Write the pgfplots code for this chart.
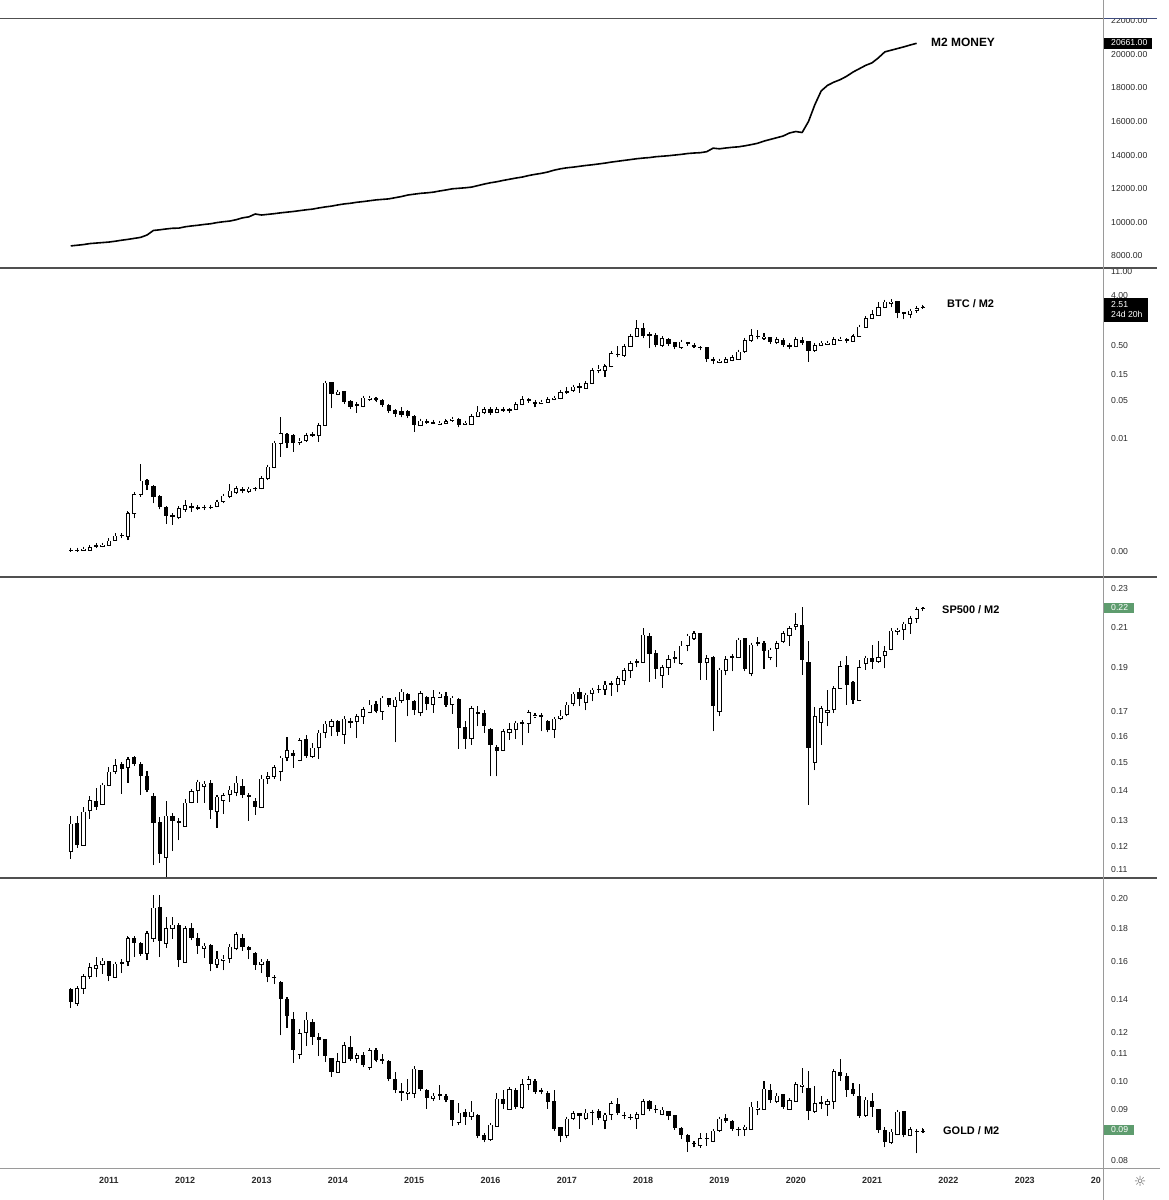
\documentclass[border=0pt]{standalone}
\usepackage{pgfplots}
\pgfplotsset{compat=1.18}
\usepackage{pgfplotstable}
\usepackage{fontspec}
\setmainfont{Liberation Sans}
\newfontfamily\symfont{DejaVu Sans}
\definecolor{sepgray}{HTML}{505050}
\definecolor{axgray}{HTML}{9A9A9A}
\definecolor{topblue}{HTML}{3E4B7C}
\definecolor{badgegreen}{HTML}{5E9C6E}
\definecolor{ticktext}{HTML}{2A2A2A}

% ---------------- M2 money (billions USD), monthly, m=0 is Jul 2010
\pgfplotstableread{
m v
0 8601
1 8640
2 8680
3 8740
4 8770
5 8800
6 8830
7 8880
8 8940
9 8990
10 9050
11 9110
12 9250
13 9520
14 9560
15 9610
16 9650
17 9660
18 9740
19 9790
20 9830
21 9880
22 9920
23 9990
24 10040
25 10080
26 10160
27 10270
28 10330
29 10500
30 10440
31 10480
32 10520
33 10570
34 10610
35 10650
36 10700
37 10750
38 10790
39 10860
40 10920
41 10970
42 11040
43 11100
44 11140
45 11200
46 11240
47 11290
48 11340
49 11370
50 11400
51 11470
52 11540
53 11630
54 11680
55 11730
56 11760
57 11800
58 11870
59 11930
60 12000
61 12030
62 12060
63 12100
64 12190
65 12280
66 12360
67 12420
68 12500
69 12570
70 12640
71 12700
72 12790
73 12860
74 12920
75 13000
76 13110
77 13190
78 13250
79 13290
80 13340
81 13390
82 13430
83 13480
84 13530
85 13590
86 13640
87 13690
88 13740
89 13790
90 13830
91 13860
92 13910
93 13940
94 13970
95 14010
96 14050
97 14100
98 14130
99 14150
100 14210
101 14420
102 14380
103 14430
104 14470
105 14500
106 14560
107 14630
108 14710
109 14840
110 14940
111 15040
112 15140
113 15320
114 15410
115 15350
116 16010
117 17010
118 17830
119 18160
120 18350
121 18500
122 18700
123 18950
124 19150
125 19350
126 19500
127 19800
128 20150
129 20250
130 20350
131 20450
132 20560
133 20661
}\mtwo

% ---------------- BTC / M2 monthly candles
\pgfplotstableread{
m o h l c
0 9.34e-5 9.74e-5 9.21e-5 9.60e-5
1 9.34e-5 9.74e-5 9.21e-5 9.60e-5
2 9.47e-5 1.058e-4 9.21e-5 1.001e-4
3 9.47e-5 1.119e-4 9.21e-5 1.058e-4
4 1.104e-4 1.287e-4 1.016e-4 1.151e-4
5 1.089e-4 1.252e-4 1.058e-4 1.184e-4
6 1.167e-4 1.543e-4 1.119e-4 1.400e-4
7 1.439e-4 1.956e-4 1.400e-4 1.726e-4
8 1.775e-4 1.903e-4 1.609e-4 1.678e-4
9 1.702e-4 4.713e-4 1.439e-4 4.395e-4
10 4.395e-4 1.044e-3 3.565e-4 9.87e-4
11 9.87e-4 3.467e-3 8.83e-4 1.726e-3
12 1.726e-3 1.825e-3 1.167e-3 1.439e-3
13 1.380e-3 1.439e-3 6.68e-4 8.83e-4
14 8.83e-4 9.47e-4 5.20e-4 5.65e-4
15 5.65e-4 5.975e-4 2.812e-4 3.93e-4
16 4.10e-4 4.52e-4 2.70e-4 3.72e-4
17 3.72e-4 5.975e-4 3.42e-4 5.42e-4
18 5.20e-4 7.68e-4 4.713e-4 6.23e-4
19 5.975e-4 6.68e-4 4.713e-4 5.50e-4
20 5.34e-4 5.975e-4 5.05e-4 5.65e-4
21 5.50e-4 5.975e-4 5.05e-4 5.80e-4
22 5.50e-4 6.14e-4 5.20e-4 5.81e-4
23 5.81e-4 7.68e-4 5.65e-4 7.17e-4
24 7.17e-4 9.87e-4 6.68e-4 9.21e-4
25 9.08e-4 1.501e-3 8.24e-4 1.136e-3
26 1.044e-3 1.342e-3 9.87e-4 1.252e-3
27 1.200e-3 1.305e-3 1.044e-3 1.104e-3
28 1.104e-3 1.305e-3 1.044e-3 1.235e-3
29 1.269e-3 1.342e-3 1.136e-3 1.200e-3
30 1.235e-3 2.040e-3 1.200e-3 1.903e-3
31 1.903e-3 3.325e-3 1.775e-3 3.100e-3
32 3.015e-3 9.21e-3 2.89e-3 8.47e-3
33 8.24e-3 0.02446 4.715e-3 0.01252
34 0.01218 0.01287 6.68e-3 8.47e-3
35 0.01136 0.01200 5.81e-3 8.47e-3
36 8.47e-3 0.01016 7.68e-3 9.21e-3
37 9.21e-3 0.01252 8.83e-3 0.01167
38 0.01151 0.01288 0.01089 0.01218
39 0.01167 0.01903 8.83e-3 0.01775
40 0.01775 0.1089 0.01702 0.1044
41 0.1044 0.1089 0.03565 0.06497
42 0.06497 0.0768 0.06233 0.07166
43 0.07166 0.07468 0.04275 0.04713
44 0.04713 0.05051 0.03718 0.03823
45 0.03988 0.04713 0.02973 0.04216
46 0.03823 0.05809 0.03718 0.05571
47 0.05269 0.05975 0.04915 0.05571
48 0.05418 0.05651 0.04779 0.05051
49 0.05051 0.05197 0.03932 0.04100
50 0.04100 0.04275 0.03101 0.03234
51 0.03325 0.03420 0.02515 0.02812
52 0.03145 0.03823 0.02446 0.02660
53 0.03145 0.03325 0.02446 0.02587
54 0.02587 0.02660 0.01342 0.01775
55 0.01775 0.02250 0.01702 0.02128
56 0.01984 0.02250 0.01851 0.02098
57 0.01903 0.02128 0.01851 0.02011
58 0.01851 0.02011 0.01800 0.01957
59 0.01903 0.02188 0.01825 0.02098
60 0.02188 0.02515 0.02040 0.02313
61 0.02250 0.02346 0.01609 0.01775
62 0.01851 0.02040 0.01775 0.01957
63 0.01851 0.02697 0.01800 0.02587
64 0.02515 0.03932 0.02446 0.03101
65 0.02973 0.03718 0.02812 0.03420
66 0.03420 0.03718 0.02697 0.02973
67 0.03058 0.03615 0.02891 0.03420
68 0.03234 0.03565 0.03101 0.03420
69 0.03420 0.03565 0.03058 0.03234
70 0.03420 0.04394 0.03325 0.04216
71 0.04216 0.05975 0.04044 0.05197
72 0.05197 0.05418 0.04521 0.04915
73 0.04394 0.04713 0.03718 0.04648
74 0.04457 0.04847 0.04275 0.04713
75 0.04648 0.05343 0.04521 0.05197
76 0.05269 0.05809 0.05051 0.05571
77 0.05418 0.07468 0.05197 0.07065
78 0.06966 0.08589 0.06497 0.07366
79 0.07468 0.09339 0.07065 0.08834
80 0.09082 0.1016 0.06871 0.08237
81 0.08237 0.1044 0.08010 0.1016
82 0.1016 0.1903 0.09874 0.1775
83 0.1726 0.2188 0.1543 0.1876
84 0.1775 0.2188 0.1342 0.2098
85 0.2040 0.3823 0.1984 0.3565
86 0.3467 0.4847 0.3015 0.3280
87 0.3280 0.5270 0.3101 0.4847
88 0.4847 0.7680 0.4715 0.7367
89 0.7367 1.439 0.7166 1.016
90 1.016 1.287 0.6683 0.7367
91 0.7900 0.8834 0.4396 0.7468
92 0.7574 0.8236 0.4584 0.5055
93 0.5055 0.7166 0.4715 0.6683
94 0.6407 0.6683 0.5055 0.5270
95 0.5571 0.5810 0.4335 0.4584
96 0.4584 0.6059 0.4335 0.5810
97 0.5571 0.5810 0.5055 0.5270
98 0.4715 0.5055 0.4457 0.4984
99 0.4584 0.4715 0.4216 0.4396
100 0.4584 0.4715 0.2515 0.2773
101 0.2773 0.3015 0.2282 0.2623
102 0.2481 0.2773 0.2346 0.2623
103 0.2481 0.2892 0.2346 0.2773
104 0.2697 0.3189 0.2551 0.3015
105 0.2773 0.3988 0.2697 0.3823
106 0.3823 0.6407 0.3666 0.6232
107 0.6232 0.9739 0.5810 0.7680
108 0.7367 0.9471 0.6407 0.6966
109 0.6776 0.8236 0.6232 0.7166
110 0.6871 0.7166 0.5419 0.5810
111 0.5571 0.6683 0.5270 0.6407
112 0.6232 0.6683 0.4715 0.5055
113 0.4715 0.5055 0.4216 0.4984
114 0.4847 0.6683 0.4584 0.6407
115 0.6232 0.7166 0.5419 0.5571
116 0.5810 0.6059 0.2515 0.3988
117 0.3988 0.5270 0.3823 0.5055
118 0.5055 0.5810 0.4847 0.5571
119 0.5270 0.5810 0.4984 0.5571
120 0.5270 0.6683 0.5125 0.6407
121 0.6232 0.6966 0.6059 0.6589
122 0.6407 0.6683 0.5730 0.5892
123 0.5892 0.7680 0.5730 0.7367
124 0.7367 1.120 0.7166 1.089
125 1.059 1.609 1.030 1.543
126 1.522 2.188 1.480 1.851
127 1.775 3.100 1.702 2.446
128 2.446 3.325 2.346 3.100
129 2.934 3.420 2.446 3.100
130 3.100 3.234 1.543 1.957
131 1.957 2.040 1.480 1.851
132 1.851 2.250 1.543 2.128
133 2.128 2.446 1.957 2.379
134 2.412 2.586 2.346 2.510
}\btc

% ---------------- SP500 / M2 monthly candles
\pgfplotstableread{
m o h l c
0 0.1201 0.1311 0.1179 0.1287
1 0.1287 0.1311 0.1211 0.1219
2 0.1219 0.1341 0.1218 0.1325
3 0.1330 0.1378 0.1302 0.1365
4 0.1361 0.1407 0.1333 0.1342
5 0.1350 0.1423 0.1348 0.1419
6 0.1416 0.1482 0.1413 0.1465
7 0.1466 0.1513 0.1457 0.1489
8 0.1494 0.1500 0.1387 0.1477
9 0.1480 0.1520 0.1425 0.1513
10 0.1520 0.1526 0.1488 0.1494
11 0.1494 0.1500 0.1383 0.1449
12 0.1449 0.1468 0.1392 0.1401
13 0.1376 0.1390 0.1160 0.1289
14 0.1289 0.1308 0.1167 0.1194
15 0.1183 0.1361 0.1126 0.1313
16 0.1311 0.1322 0.1201 0.1294
17 0.1292 0.1304 0.1234 0.1295
18 0.1279 0.1369 0.1277 0.1356
19 0.1356 0.1404 0.1354 0.1396
20 0.1398 0.1437 0.1356 0.1429
21 0.1413 0.1431 0.1356 0.1423
22 0.1423 0.1437 0.1302 0.1331
23 0.1328 0.1381 0.1273 0.1376
24 0.1364 0.1390 0.1318 0.1381
25 0.1384 0.1413 0.1358 0.1401
26 0.1390 0.1449 0.1378 0.1425
27 0.1413 0.1440 0.1373 0.1381
28 0.1381 0.1390 0.1297 0.1375
29 0.1360 0.1373 0.1316 0.1342
30 0.1341 0.1452 0.1341 0.1440
31 0.1441 0.1464 0.1423 0.1449
32 0.1449 0.1492 0.1441 0.1482
33 0.1465 0.1523 0.1431 0.1517
34 0.1517 0.1598 0.1504 0.1547
35 0.1536 0.1547 0.1480 0.1523
36 0.1508 0.1594 0.1504 0.1585
37 0.1588 0.1608 0.1517 0.1526
38 0.1521 0.1575 0.1517 0.1556
39 0.1556 0.1629 0.1513 0.1615
40 0.1618 0.1663 0.1594 0.1653
41 0.1642 0.1670 0.1601 0.1663
42 0.1663 0.1670 0.1604 0.1618
43 0.1608 0.1684 0.1572 0.1673
44 0.1659 0.1677 0.1636 0.1663
45 0.1663 0.1688 0.1594 0.1684
46 0.1684 0.1719 0.1653 0.1715
47 0.1700 0.1753 0.1697 0.1734
48 0.1734 0.1748 0.1702 0.1705
49 0.1705 0.1767 0.1670 0.1763
50 0.1759 0.1763 0.1726 0.1734
51 0.1726 0.1763 0.1578 0.1756
52 0.1753 0.1800 0.1741 0.1792
53 0.1778 0.1785 0.1684 0.1753
54 0.1748 0.1756 0.1690 0.1712
55 0.1700 0.1792 0.1684 0.1785
56 0.1767 0.1773 0.1709 0.1738
57 0.1734 0.1800 0.1700 0.1767
58 0.1767 0.1792 0.1763 0.1781
59 0.1770 0.1792 0.1724 0.1734
60 0.1734 0.1770 0.1695 0.1763
61 0.1756 0.1763 0.1552 0.1636
62 0.1636 0.1663 0.1552 0.1591
63 0.1591 0.1729 0.1569 0.1719
64 0.1702 0.1729 0.1642 0.1695
65 0.1697 0.1712 0.1615 0.1645
66 0.1631 0.1636 0.1449 0.1566
67 0.1556 0.1569 0.1449 0.1543
68 0.1545 0.1629 0.1543 0.1622
69 0.1618 0.1656 0.1588 0.1631
70 0.1631 0.1663 0.1591 0.1656
71 0.1653 0.1667 0.1566 0.1659
72 0.1653 0.1707 0.1615 0.1702
73 0.1687 0.1700 0.1677 0.1689
74 0.1686 0.1697 0.1622 0.1684
75 0.1663 0.1667 0.1618 0.1629
76 0.1629 0.1681 0.1594 0.1673
77 0.1673 0.1712 0.1667 0.1686
78 0.1690 0.1744 0.1684 0.1734
79 0.1738 0.1788 0.1726 0.1781
80 0.1789 0.1807 0.1726 0.1760
81 0.1744 0.1785 0.1709 0.1778
82 0.1785 0.1807 0.1748 0.1800
83 0.1800 0.1823 0.1785 0.1804
84 0.1800 0.1838 0.1778 0.1823
85 0.1829 0.1838 0.1773 0.1821
86 0.1823 0.1861 0.1788 0.1853
87 0.1843 0.1895 0.1823 0.1889
88 0.1889 0.1932 0.1853 0.1924
89 0.1927 0.1940 0.1904 0.1932
90 0.1929 0.2100 0.1924 0.2066
91 0.2057 0.2074 0.1835 0.1970
92 0.1970 0.1986 0.1850 0.1895
93 0.1864 0.1916 0.1810 0.1904
94 0.1904 0.1965 0.1869 0.1943
95 0.1948 0.1981 0.1924 0.1953
96 0.1921 0.2031 0.1917 0.2009
97 0.2009 0.2071 0.1981 0.2061
98 0.2045 0.2083 0.2040 0.2074
99 0.2071 0.2074 0.1846 0.1924
100 0.1927 0.1965 0.1846 0.1947
101 0.1952 0.1957 0.1622 0.1727
102 0.1705 0.1895 0.1684 0.1892
103 0.1889 0.1960 0.1866 0.1943
104 0.1952 0.1965 0.1884 0.1957
105 0.1953 0.2049 0.1948 0.2040
106 0.2047 0.2049 0.1892 0.1895
107 0.1876 0.2023 0.1861 0.2014
108 0.2021 0.2054 0.2006 0.2026
109 0.2023 0.2031 0.1895 0.1981
110 0.1953 0.1997 0.1937 0.1989
111 0.1997 0.2031 0.1904 0.2023
112 0.2031 0.2083 0.2023 0.2074
113 0.2061 0.2109 0.2009 0.2100
114 0.2109 0.2180 0.2091 0.2121
115 0.2114 0.2217 0.1869 0.1937
116 0.1927 0.2031 0.1350 0.1556
117 0.1500 0.1722 0.1471 0.1684
118 0.1659 0.1729 0.1569 0.1719
119 0.1700 0.1800 0.1642 0.1709
120 0.1712 0.1812 0.1697 0.1807
121 0.1807 0.1932 0.1803 0.1908
122 0.1911 0.1957 0.1734 0.1823
123 0.1833 0.1838 0.1738 0.1756
124 0.1753 0.1937 0.1748 0.1904
125 0.1921 0.1957 0.1892 0.1950
126 0.1947 0.2014 0.1895 0.1930
127 0.1930 0.2031 0.1924 0.1953
128 0.1961 0.2006 0.1899 0.1981
129 0.1989 0.2100 0.1986 0.2086
130 0.2084 0.2100 0.2066 0.2091
131 0.2091 0.2127 0.2040 0.2123
132 0.2123 0.2163 0.2071 0.2154
133 0.2150 0.2208 0.2127 0.2202
134 0.2207 0.2213 0.2202 0.2205
}\spx

% ---------------- GOLD / M2 monthly candles
\pgfplotstableread{
m o h l c
0 0.1449 0.1455 0.1355 0.1382
1 0.1376 0.1460 0.1366 0.1453
2 0.1453 0.1528 0.1424 0.1516
3 0.1516 0.1589 0.1503 0.1567
4 0.1561 0.1621 0.1510 0.1578
5 0.1580 0.1617 0.1530 0.1602
6 0.1598 0.1602 0.1489 0.1516
7 0.1512 0.1592 0.1506 0.1585
8 0.1589 0.1611 0.1534 0.1594
9 0.1598 0.1742 0.1571 0.1736
10 0.1736 0.1751 0.1623 0.1705
11 0.1701 0.1715 0.1631 0.1643
12 0.1646 0.1778 0.1606 0.1767
13 0.1732 0.2024 0.1715 0.1935
14 0.1935 0.2024 0.1623 0.1720
15 0.1701 0.1870 0.1676 0.1798
16 0.1798 0.1874 0.1730 0.1820
17 0.1815 0.1835 0.1567 0.1608
18 0.1592 0.1809 0.1589 0.1798
19 0.1794 0.1835 0.1730 0.1736
20 0.1732 0.1767 0.1643 0.1691
21 0.1676 0.1695 0.1617 0.1691
22 0.1691 0.1699 0.1543 0.1585
23 0.1583 0.1656 0.1561 0.1613
24 0.1602 0.1637 0.1549 0.1615
25 0.1617 0.1689 0.1589 0.1685
26 0.1672 0.1771 0.1662 0.1761
27 0.1736 0.1761 0.1660 0.1682
28 0.1682 0.1689 0.1611 0.1666
29 0.1646 0.1652 0.1552 0.1580
30 0.1580 0.1611 0.1534 0.1598
31 0.1598 0.1613 0.1484 0.1512
32 0.1510 0.1525 0.1475 0.1505
33 0.1484 0.1489 0.1229 0.1398
34 0.1398 0.1407 0.1263 0.1315
35 0.1303 0.1335 0.1115 0.1167
36 0.1149 0.1258 0.1129 0.1238
37 0.1241 0.1335 0.1183 0.1300
38 0.1288 0.1303 0.1190 0.1221
39 0.1221 0.1241 0.1142 0.1211
40 0.1211 0.1214 0.1118 0.1142
41 0.1131 0.1135 0.1061 0.1079
42 0.1079 0.1156 0.1077 0.1122
43 0.1118 0.1199 0.1115 0.1187
44 0.1179 0.1226 0.1126 0.1131
45 0.1133 0.1153 0.1115 0.1145
46 0.1146 0.1159 0.1102 0.1106
47 0.1098 0.1172 0.1089 0.1167
48 0.1167 0.1174 0.1122 0.1126
49 0.1126 0.1152 0.1111 0.1129
50 0.1122 0.1125 0.1048 0.1052
51 0.1052 0.1079 0.1002 0.1012
52 0.1007 0.1037 0.0974 0.1005
53 0.1002 0.1052 0.0977 0.1006
54 0.1000 0.1104 0.0985 0.1092
55 0.1085 0.1089 0.1011 0.1017
56 0.1012 0.1017 0.0948 0.0985
57 0.0984 0.1002 0.0974 0.0993
58 0.0993 0.1030 0.0979 0.0997
59 0.0991 0.0997 0.0972 0.0977
60 0.0977 0.0979 0.0891 0.0912
61 0.0901 0.0966 0.0893 0.0935
62 0.0935 0.0948 0.0896 0.0921
63 0.0921 0.0974 0.0912 0.0937
64 0.0926 0.0929 0.0853 0.0861
65 0.0861 0.0869 0.0841 0.0849
66 0.0849 0.0901 0.0846 0.0895
67 0.0891 0.1002 0.0889 0.0982
68 0.0979 0.1012 0.0946 0.0963
69 0.0946 0.1017 0.0944 0.1015
70 0.1012 0.1021 0.0946 0.0955
71 0.0952 0.1054 0.0948 0.1033
72 0.1033 0.1064 0.1012 0.1052
73 0.1043 0.1054 0.1005 0.1007
74 0.1008 0.1021 0.0997 0.1012
75 0.1002 0.1008 0.0948 0.0971
76 0.0971 0.1012 0.0881 0.0883
77 0.0886 0.0889 0.0841 0.0861
78 0.0863 0.0918 0.0853 0.0915
79 0.0915 0.0940 0.0910 0.0932
80 0.0932 0.0935 0.0883 0.0923
81 0.0915 0.0946 0.0910 0.0935
82 0.0935 0.0944 0.0893 0.0938
83 0.0938 0.0946 0.0910 0.0917
84 0.0910 0.0933 0.0881 0.0928
85 0.0929 0.0969 0.0910 0.0966
86 0.0963 0.0983 0.0933 0.0935
87 0.0926 0.0937 0.0915 0.0923
88 0.0918 0.0929 0.0910 0.0921
89 0.0915 0.0935 0.0883 0.0929
90 0.0929 0.0982 0.0926 0.0974
91 0.0974 0.0979 0.0940 0.0946
92 0.0945 0.0960 0.0933 0.0948
93 0.0930 0.0955 0.0926 0.0944
94 0.0937 0.0940 0.0910 0.0924
95 0.0924 0.0926 0.0883 0.0886
96 0.0883 0.0889 0.0851 0.0863
97 0.0863 0.0865 0.0813 0.0843
98 0.0839 0.0846 0.0826 0.0836
99 0.0831 0.0871 0.0825 0.0853
100 0.0852 0.0869 0.0831 0.0855
101 0.0844 0.0881 0.0841 0.0876
102 0.0876 0.0921 0.0873 0.0915
103 0.0915 0.0929 0.0903 0.0908
104 0.0906 0.0910 0.0879 0.0883
105 0.0881 0.0886 0.0859 0.0883
106 0.0881 0.0893 0.0861 0.0889
107 0.0881 0.0971 0.0879 0.0955
108 0.0946 0.0974 0.0926 0.0951
109 0.0946 0.1046 0.0944 0.1017
110 0.1012 0.1033 0.0971 0.0976
111 0.0974 0.1002 0.0966 0.0993
112 0.0997 0.1000 0.0951 0.0955
113 0.0946 0.0979 0.0944 0.0976
114 0.0974 0.1039 0.0971 0.1033
115 0.1027 0.1095 0.1002 0.1031
116 0.1017 0.1083 0.0910 0.0940
117 0.0940 0.1027 0.0935 0.0966
118 0.0965 0.0991 0.0946 0.0969
119 0.0963 0.0979 0.0924 0.0974
120 0.0974 0.1089 0.0946 0.1083
121 0.1079 0.1131 0.1046 0.1064
122 0.1064 0.1077 0.0989 0.1012
123 0.1015 0.1037 0.0997 0.1000
124 0.0991 0.1033 0.0918 0.0924
125 0.0926 0.0985 0.0921 0.0979
126 0.0974 0.1002 0.0921 0.0952
127 0.0946 0.0948 0.0871 0.0879
128 0.0876 0.0889 0.0826 0.0841
129 0.0841 0.0881 0.0836 0.0873
130 0.0866 0.0940 0.0863 0.0937
131 0.0937 0.0940 0.0856 0.0863
132 0.0863 0.0886 0.0859 0.0881
133 0.0873 0.0879 0.0809 0.0876
134 0.0873 0.0883 0.0869 0.0877
}\gold

\pgfplotsset{
  panel/.style={
    scale only axis, width=1103bp,
    xmin=-11.12, xmax=162.3,
    anchor=north west,
    axis line style={draw=none},
    xtick=\empty,
    ytick pos=right, yticklabel pos=right,
    major tick length=0pt, minor tick length=0pt,
    minor ytick={},
    scaled y ticks=false,
    yticklabel style={anchor=west, inner sep=0pt, xshift=8bp,
      font=\fontsize{8.7}{10}\selectfont, text=ticktext},
  },
  nomark/.style={only marks, mark=*, mark size=0pt,
    mark options={draw=none, fill=none, draw opacity=0, fill opacity=0}},
}

\newcommand\candles[1]{%
  % wicks, low to high
  \addplot[nomark,
    error bars/.cd, y dir=plus, y explicit, error mark=none,
    error bar style={black, line width=1.1bp}]
    table[x=m, y=l, y error expr=\thisrow{h}-\thisrow{l}] {#1};
  % black bodies, open to close, with a 1bp edge at both ends
  \addplot[only marks, mark=-, mark size=2.1bp,
    mark options={black, line width=1bp},
    error bars/.cd, y dir=plus, y explicit, error mark=-,
    error mark options={black, line width=1bp, mark size=2.1bp},
    error bar style={black, line width=4.2bp}]
    table[x=m, y=o, y error expr=\thisrow{c}-\thisrow{o}] {#1};
  % hollow inside of the rising candles
  \addplot[nomark, unbounded coords=discard,
    error bars/.cd, y dir=plus, y explicit, error mark=none,
    error bar style={white, line width=2.4bp, shorten <=0.5bp, shorten >=0.5bp}]
    table[x=m, y expr={\thisrow{c}>=\thisrow{o} ? \thisrow{o} : nan},
          y error expr=\thisrow{c}-\thisrow{o}] {#1};
}

\begin{document}
\begin{tikzpicture}
\useasboundingbox (0bp,0bp) rectangle (1169bp,-1200bp);
\fill[white] (0bp,0bp) rectangle (1169bp,-1200bp);

% ---------- Panel 1: M2 money
\begin{axis}[panel, at={(0bp,-18bp)}, height=250bp,
  ymin=7286, ymax=22167,
  ytick={8000,10000,12000,14000,16000,18000,20000,22000},
  yticklabels={8000.00,10000.00,12000.00,14000.00,16000.00,18000.00,20000.00,22000.00}]
\addplot[black, line width=1.6bp, line join=round, mark=none] table[x=m, y=v] {\mtwo};
\end{axis}

% ---------- Panel 2: BTC / M2
\begin{axis}[panel, at={(0bp,-268bp)}, height=309bp, ymode=log,
  ymin=3.058e-5, ymax=12.7,
  ytick={0.00009,0.01,0.05,0.15,0.5,4,11},
  yticklabels={0.00,0.01,0.05,0.15,0.50,4.00,11.00}]
\candles{\btc}
\end{axis}

% ---------- Panel 3: SP500 / M2
\begin{axis}[panel, at={(0bp,-577bp)}, height=301bp, ymode=log,
  ymin=0.1123, ymax=0.2387,
  ytick={0.1147,0.1215,0.1297,0.14,0.15,0.1601,0.1704,0.1905,0.2102,0.2317},
  yticklabels={0.11,0.12,0.13,0.14,0.15,0.16,0.17,0.19,0.21,0.23}]
\candles{\spx}
\end{axis}

% ---------- Panel 4: GOLD / M2
\begin{axis}[panel, at={(0bp,-878bp)}, height=290bp, ymode=log,
  ymin=0.0768, ymax=0.2149,
  ytick={0.079,0.0945,0.1045,0.1151,0.124,0.1398,0.1598,0.1798,0.2},
  yticklabels={0.08,0.09,0.10,0.11,0.12,0.14,0.16,0.18,0.20},
  xtick={6,18,30,42,54,66,78,90,102,114,126,138,150},
  xticklabels={2011,2012,2013,2014,2015,2016,2017,2018,2019,2020,2021,2022,2023},
  xticklabel style={anchor=center, inner sep=0pt, yshift=-12bp,
    font=\fontsize{9}{10}\selectfont\bfseries, text=ticktext}]
\candles{\gold}
\end{axis}

% ---------- clip the labels that run into the pane borders
\fill[white] (1104bp,0bp) rectangle (1169bp,-18.5bp);
\fill[white] (1104bp,-261bp) rectangle (1169bp,-268bp);

% ---------- pane separators and price axis line
\draw[sepgray, line width=1.3bp] (0bp,-18.5bp) -- (1103bp,-18.5bp);
\draw[topblue, line width=1.3bp] (1103bp,-18.5bp) -- (1157bp,-18.5bp);
\foreach \yy in {268,577,878} \draw[sepgray, line width=1.3bp] (0bp,-\yy bp) -- (1157bp,-\yy bp);
\draw[axgray, line width=1.6bp] (0bp,-1168.5bp) -- (1160bp,-1168.5bp);
\draw[axgray, line width=0.9bp] (1103bp,0bp) -- (1103bp,-1200bp);

% ---------- pane titles
\node[anchor=west, inner sep=0pt, font=\fontsize{12}{14}\selectfont\bfseries] at (931bp,-42bp) {M2 MONEY};
\node[anchor=west, inner sep=0pt, font=\fontsize{11}{13}\selectfont\bfseries] at (947bp,-304bp) {BTC / M2};
\node[anchor=west, inner sep=0pt, font=\fontsize{11}{13}\selectfont\bfseries] at (942bp,-610bp) {SP500 / M2};
\node[anchor=west, inner sep=0pt, font=\fontsize{11}{13}\selectfont\bfseries] at (943bp,-1131bp) {GOLD / M2};

% ---------- last-value badges
\fill[black] (1104bp,-37.5bp) rectangle (1152bp,-48.5bp);
\node[anchor=west, inner sep=0pt, text=white, font=\fontsize{8.7}{10}\selectfont] at (1111bp,-43bp) {20661.00};
\fill[black] (1104bp,-298bp) rectangle (1148bp,-322bp);
\node[anchor=west, inner sep=0pt, text=white, font=\fontsize{8.7}{10}\selectfont] at (1111bp,-304.5bp) {2.51};
\node[anchor=west, inner sep=0pt, text=white, font=\fontsize{8.7}{10}\selectfont] at (1111bp,-314.5bp) {24d 20h};
\fill[badgegreen] (1104bp,-603bp) rectangle (1134bp,-613bp);
\node[anchor=west, inner sep=0pt, text=white, font=\fontsize{8.7}{10}\selectfont] at (1111bp,-608bp) {0.22};
\fill[badgegreen] (1104bp,-1125bp) rectangle (1134bp,-1135bp);
\node[anchor=west, inner sep=0pt, text=white, font=\fontsize{8.7}{10}\selectfont] at (1111bp,-1130bp) {0.09};

% ---------- clipped last year label and settings icon
\node[anchor=east, inner sep=0pt, text=ticktext, font=\fontsize{9}{10}\selectfont\bfseries] at (1101bp,-1180bp) {20};
\node[inner sep=0pt, text=ticktext!70, font=\symfont\fontsize{14}{14}\selectfont] at (1140bp,-1181bp) {☼};
\end{tikzpicture}
\end{document}
